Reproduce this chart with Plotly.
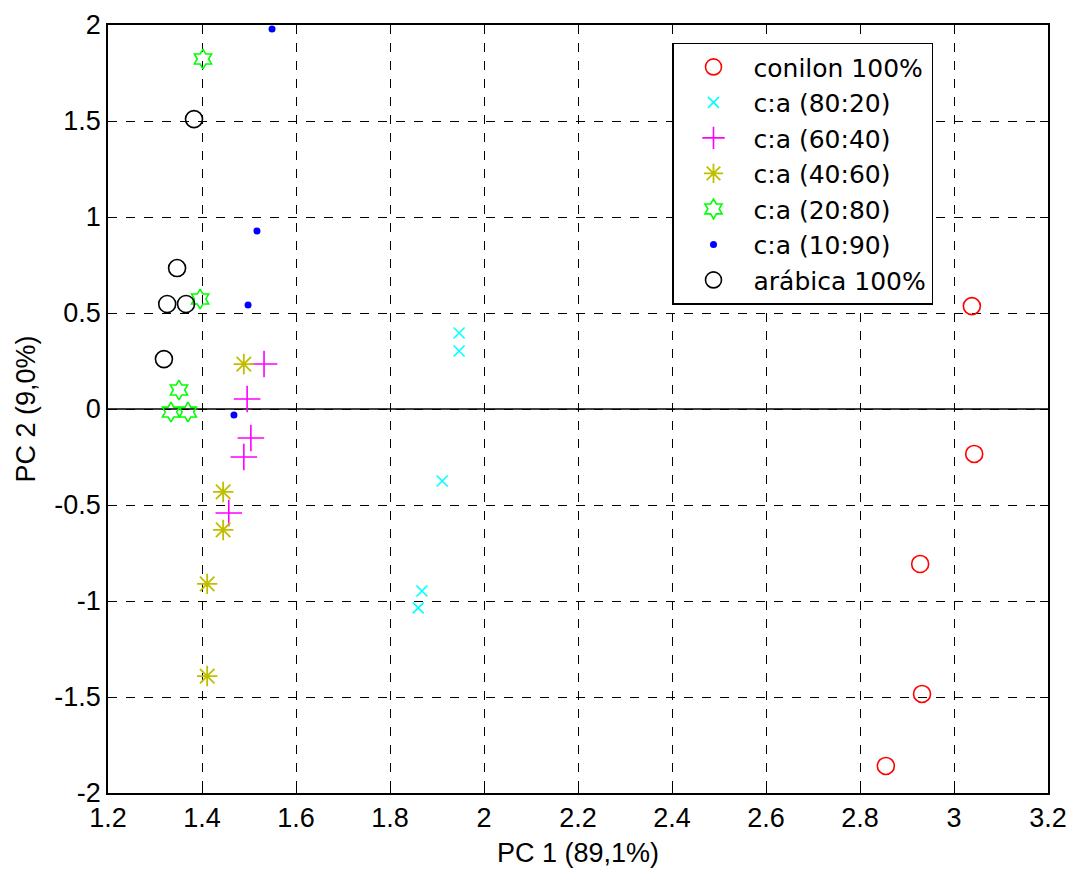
import plotly.graph_objects as go

# PCA scores per blend
conilon_x = [3.038, 3.043, 2.928, 2.932, 2.855]
conilon_y = [0.536, -0.234, -0.807, -1.484, -1.859]

ca8020_x = [1.947, 1.947, 1.911, 1.868, 1.860]
ca8020_y = [0.396, 0.302, -0.375, -0.948, -1.036]

ca6040_x = [1.532, 1.496, 1.504, 1.489, 1.457]
ca6040_y = [0.234, 0.052, -0.151, -0.250, -0.542]

ca4060_x = [1.489, 1.445, 1.445, 1.411, 1.411]
ca4060_y = [0.234, -0.432, -0.630, -0.911, -1.391]

ca2080_x = [1.402, 1.396, 1.351, 1.334, 1.370]
ca2080_y = [1.823, 0.573, 0.099, -0.016, -0.016]

ca1090_x = [1.549, 1.517, 1.498, 1.468]
ca1090_y = [1.979, 0.927, 0.542, -0.031]

arabica_x = [1.383, 1.347, 1.326, 1.366, 1.319]
arabica_y = [1.510, 0.734, 0.547, 0.547, 0.260]

x_ticks = [1.2, 1.4, 1.6, 1.8, 2.0, 2.2, 2.4, 2.6, 2.8, 3.0, 3.2]
x_tick_text = ["1.2", "1.4", "1.6", "1.8", "2", "2.2", "2.4", "2.6", "2.8", "3", "3.2"]
y_ticks = [-2, -1.5, -1, -0.5, 0, 0.5, 1, 1.5, 2]
y_tick_text = ["-2", "-1.5", "-1", "-0.5", "0", "0.5", "1", "1.5", "2"]

series = [
    ("conilon 100%", conilon_x, conilon_y, "circle-open", "#FF0000", 17, 1.6),
    ("c:a (80:20)", ca8020_x, ca8020_y, "x-thin-open", "#00FFFF", 11, 1.6),
    ("c:a (60:40)", ca6040_x, ca6040_y, "cross-thin-open", "#FF00FF", 19, 1.6),
    ("c:a (40:60)", ca4060_x, ca4060_y, "asterisk-open", "#BFBF00", 17, 1.8),
    ("c:a (20:80)", ca2080_x, ca2080_y, "hexagram-open", "#00FF00", 15, 1.6),
    ("c:a (10:90)", ca1090_x, ca1090_y, "circle", "#0000FF", 7, 0),
    ("arábica 100%", arabica_x, arabica_y, "circle-open", "#000000", 17, 1.6),
]

FONT = "Liberation Sans, Arial, sans-serif"
LEGEND_FONT = "DejaVu Sans, Verdana, sans-serif"

fig = go.Figure()

# solid zero line across the plot
fig.add_shape(type="line", xref="paper", yref="y", x0=0, x1=1, y0=0, y1=0,
              line=dict(color="black", width=1.5), layer="below")

for name, xs, ys, sym, col, sz, lw in series:
    fig.add_trace(go.Scatter(
        x=xs, y=ys, mode="markers", name=name,
        marker=dict(symbol=sym, color=col, size=sz,
                    line=dict(color=col, width=lw)),
    ))

axis_common = dict(
    showline=True, linecolor="black", linewidth=1.5, mirror="ticks",
    ticks="inside", ticklen=8, tickcolor="black", tickwidth=1,
    showgrid=True, gridcolor="black", gridwidth=1, griddash="dash",
    zeroline=False, automargin=False,
    tickfont=dict(family=FONT, size=27, color="black"),
)

fig.update_xaxes(range=[1.2, 3.2], tickvals=x_ticks, ticktext=x_tick_text,
                 title=dict(text="PC 1 (89,1%)", standoff=11,
                            font=dict(family=FONT, size=27, color="black")),
                 **axis_common)
fig.update_yaxes(range=[-2, 2], tickvals=y_ticks, ticktext=y_tick_text,
                 title=dict(text="PC 2 (9,0%)", standoff=11,
                            font=dict(family=FONT, size=27, color="black")),
                 **axis_common)

fig.update_layout(
    width=1069, height=869,
    margin=dict(l=108, r=21, t=25, b=76),
    paper_bgcolor="white", plot_bgcolor="white",
    showlegend=True,
    legend=dict(
        x=0.6, y=0.977, xanchor="left", yanchor="top",
        bgcolor="white", bordercolor="black", borderwidth=1.5,
        font=dict(family=LEGEND_FONT, size=25, color="black"),
        itemwidth=70, tracegroupgap=0,
    ),
)

fig.write_html("out.html")
